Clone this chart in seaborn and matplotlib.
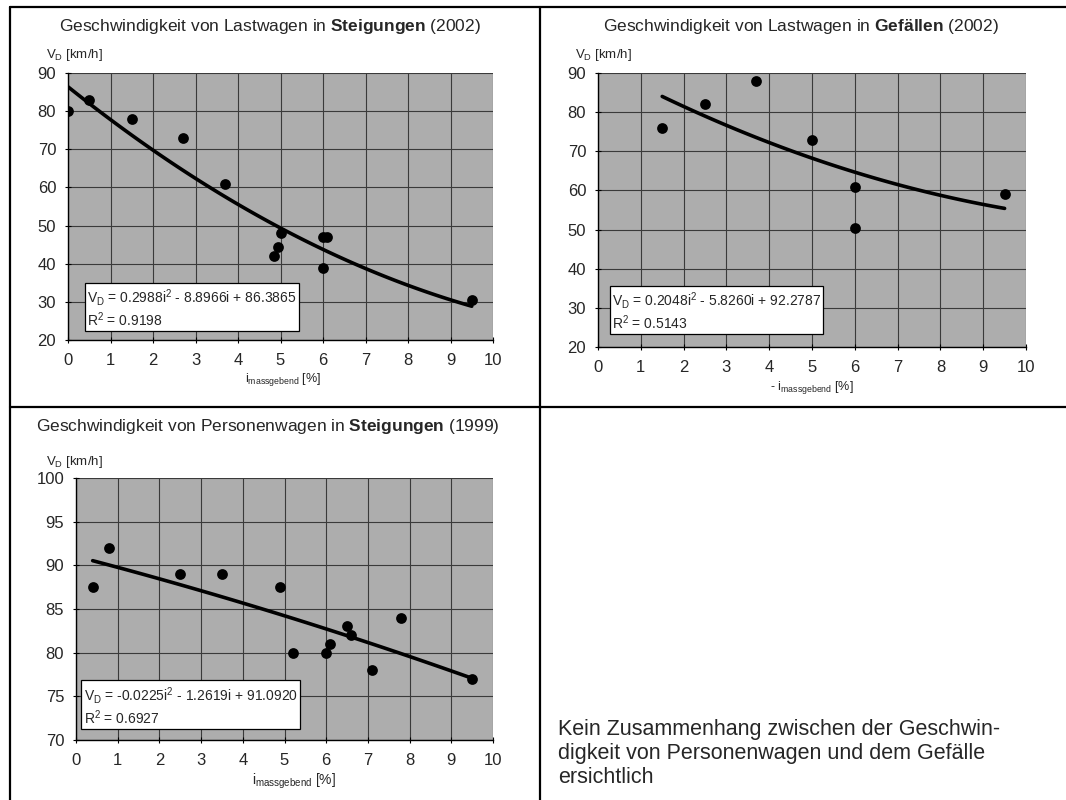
import numpy as np
import matplotlib
matplotlib.use("Agg")
import matplotlib.pyplot as plt
from matplotlib.lines import Line2D
import seaborn as sns

# ------------------------------
# Data
# ------------------------------
# Lastwagen in Steigungen (2002)
lkw_up_i = [0.0, 0.5, 1.5, 2.7, 3.7, 4.85, 4.95, 5.0, 6.0, 6.1, 6.0, 9.5]
lkw_up_v = [80, 83, 78, 73, 61, 42, 44.5, 48, 47, 47, 39, 30.5]
lkw_up_eq = "V$_\\mathrm{D}$ = 0.2988i$^2$ - 8.8966i + 86.3865\nR$^2$ = 0.9198"

# Lastwagen in Gefaellen (2002)
lkw_down_i = [1.5, 2.5, 3.7, 5.0, 6.0, 6.0, 9.5]
lkw_down_v = [76, 82, 88, 73, 61, 50.5, 59]
lkw_down_eq = "V$_\\mathrm{D}$ = 0.2048i$^2$ - 5.8260i + 92.2787\nR$^2$ = 0.5143"

# Personenwagen in Steigungen (1999)
pw_up_i = [0.4, 0.8, 2.5, 3.5, 4.9, 5.2, 6.0, 6.1, 6.5, 6.6, 7.1, 7.8, 9.5]
pw_up_v = [87.5, 92, 89, 89, 87.5, 80, 80, 81, 83, 82, 78, 84, 77]
pw_up_eq = "V$_\\mathrm{D}$ = -0.0225i$^2$ - 1.2619i + 91.0920\nR$^2$ = 0.6927"

x_ticks = list(range(0, 11))

sns.set_style("white")
plt.rcParams["font.family"] = ["Liberation Sans", "DejaVu Sans"]
plt.rcParams["mathtext.fontset"] = "custom"
plt.rcParams["mathtext.rm"] = "Liberation Sans"
plt.rcParams["mathtext.it"] = "Liberation Sans"
plt.rcParams["mathtext.bf"] = "Liberation Sans:bold"

W, H = 1066, 800
fig = plt.figure(figsize=(W / 100, H / 100), dpi=100)
fig.patch.set_facecolor("white")


def px_axes(x0, x1, ytop, ybot):
    # axes placed from pixel positions of the reference
    return fig.add_axes([x0 / W, 1 - ybot / H, (x1 - x0) / W, (ybot - ytop) / H])


def draw_panel(ax, xs, ys, ylim, yticks, eq, box_xy):
    sns.regplot(x=xs, y=ys, order=2, ci=None, ax=ax,
                scatter_kws=dict(s=60, color="black", alpha=1, zorder=4, linewidths=0),
                line_kws=dict(color="black", lw=2.6, zorder=3))
    ax.set_xlim(0, 10)
    ax.set_ylim(*ylim)
    ax.set_xticks(x_ticks)
    ax.set_yticks(yticks)
    ax.set_facecolor("#adadad")
    ax.grid(True, color="#3a3a3a", lw=0.8)
    ax.set_axisbelow(True)
    for side in ["top", "right"]:
        ax.spines[side].set_visible(False)
    for side in ["left", "bottom"]:
        ax.spines[side].set_color("black")
        ax.spines[side].set_linewidth(1.0)
    ax.tick_params(axis="both", direction="inout", length=5, width=0.8,
                   labelsize=12, color="black", left=True, bottom=True)
    ax.tick_params(axis="x", pad=7)
    ax.tick_params(axis="y", pad=6)
    ax.set_xlabel("")
    ax.set_ylabel("")
    ax.text(box_xy[0], box_xy[1], eq, transform=ax.transAxes, fontsize=10,
            va="bottom", ha="left", linespacing=1.15, zorder=6,
            bbox=dict(boxstyle="square,pad=0.15", facecolor="white",
                      edgecolor="black", lw=0.9))


# Top left
ax1 = px_axes(68, 493, 73, 340)
draw_panel(ax1, lkw_up_i, lkw_up_v, (20, 90), range(20, 91, 10), lkw_up_eq, (0.045, 0.04))

# Top right
ax2 = px_axes(598, 1026, 73, 347)
draw_panel(ax2, lkw_down_i, lkw_down_v, (20, 90), range(20, 91, 10), lkw_down_eq, (0.032, 0.055))

# Bottom left
ax3 = px_axes(76, 493, 478, 740)
draw_panel(ax3, pw_up_i, pw_up_v, (70, 100), range(70, 101, 5), pw_up_eq, (0.018, 0.05))

# Titles and axis captions
fig.text(270 / W, 1 - 27 / H, "Geschwindigkeit von Lastwagen in $\\mathbf{Steigungen}$ (2002)",
         ha="center", va="center", fontsize=12.5)
fig.text(801 / W, 1 - 27 / H, "Geschwindigkeit von Lastwagen in $\\mathbf{Gef\u00e4llen}$ (2002)",
         ha="center", va="center", fontsize=12.5)
fig.text(268 / W, 1 - 427 / H, "Geschwindigkeit von Personenwagen in $\\mathbf{Steigungen}$ (1999)",
         ha="center", va="center", fontsize=12.5)

for x, y in [(46, 55), (575, 55), (46, 462)]:
    fig.text(x / W, 1 - y / H, "V$_\\mathrm{D}$ [km/h]", ha="left", va="center", fontsize=9.5)

fig.text(245 / W, 1 - 380 / H, "i$_\\mathrm{massgebend}$ [%]", ha="left", va="center", fontsize=9)
fig.text(770 / W, 1 - 387 / H, "- i$_\\mathrm{massgebend}$ [%]", ha="left", va="center", fontsize=9)
fig.text(252 / W, 1 - 781 / H, "i$_\\mathrm{massgebend}$ [%]", ha="left", va="center", fontsize=10)

# Note in the empty cell
fig.text(558 / W, 1 - 719 / H,
         "Kein Zusammenhang zwischen der Geschwin-\ndigkeit von Personenwagen und dem Gef\u00e4lle\nersichtlich",
         ha="left", va="top", fontsize=15.5, linespacing=1.2)

# Table frame
frame = dict(color="black", lw=1.6, transform=fig.transFigure)
fig.add_artist(Line2D([10 / W, 10 / W], [0, 1 - 7 / H], **frame))
fig.add_artist(Line2D([10 / W, 1], [1 - 7 / H, 1 - 7 / H], **frame))
fig.add_artist(Line2D([540 / W, 540 / W], [0, 1 - 7 / H], **frame))
fig.add_artist(Line2D([10 / W, 1], [1 - 407 / H, 1 - 407 / H], **frame))

fig.savefig("out.png", dpi=100)
